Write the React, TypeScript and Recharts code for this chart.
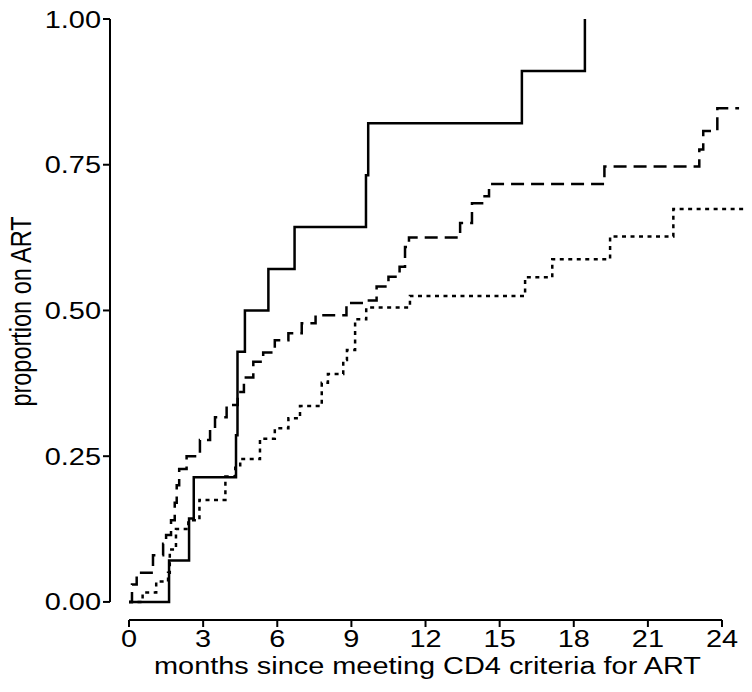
import { LineChart, Line, XAxis, YAxis, ReferenceLine, Label } from "recharts";

// months since meeting CD4 criteria, and cumulative proportion on ART after each step
const solidMonths = [0, 1.62, 2.43, 2.62, 4.33, 4.39, 4.69, 5.64, 6.7, 9.59, 9.68, 15.9, 18.45];
const solidProp = [0, 0.071, 0.143, 0.214, 0.286, 0.429, 0.5, 0.571, 0.643, 0.732, 0.821, 0.911, 1.0];

const dashedMonths = [
  0, 0.12, 0.31, 0.97, 1.38, 1.5, 1.7, 1.85, 1.93, 2.03, 2.33, 2.87, 3.28, 3.48, 3.95, 4.4, 4.65,
  5.03, 5.43, 5.9, 6.45, 6.99, 7.55, 8.8, 9.55, 10.02, 10.5, 10.95, 11.17, 11.33, 13.4, 13.88,
  14.29, 14.57, 19.24, 23.08, 23.24, 23.81, 24.69,
];
const dashedProp = [
  0, 0.03, 0.05, 0.08, 0.1, 0.115, 0.14, 0.17, 0.2, 0.228, 0.25, 0.278, 0.296, 0.317, 0.338, 0.36,
  0.385, 0.412, 0.428, 0.449, 0.461, 0.478, 0.492, 0.513, 0.517, 0.541, 0.558, 0.575, 0.609, 0.625,
  0.65, 0.684, 0.696, 0.717, 0.747, 0.776, 0.808, 0.847, 0.847,
];

const dottedMonths = [
  0, 0.55, 1.1, 1.58, 1.65, 1.9, 2.4, 2.85, 3.9, 4.3, 4.5, 5.3, 5.9, 6.45, 6.92, 7.8, 8.05, 8.67,
  8.82, 9.15, 9.6, 11.37, 16.03, 17.13, 19.47, 22.03, 24.93,
];
const dottedProp = [
  0, 0.016, 0.035, 0.05, 0.09, 0.125, 0.14, 0.175, 0.215, 0.23, 0.245, 0.28, 0.298, 0.315, 0.336,
  0.376, 0.391, 0.415, 0.432, 0.485, 0.505, 0.525, 0.557, 0.588, 0.627, 0.674, 0.674,
];

const xTicks = [0, 3, 6, 9, 12, 15, 18, 21, 24];
const yTicks = [0, 0.25, 0.5, 0.75, 1];

// axis extents (R-style axes sit a little outside the data)
const X_MIN = -0.77;
const X_MAX = 24.93;
const Y_MIN = -0.031;
const Y_MAX = 1;

const toRows = (t: number[], p: number[]) => t.map((m, i) => ({ m, p: p[i] }));
const solidRows = toRows(solidMonths, solidProp);
const dashedRows = toRows(dashedMonths, dashedProp);
const dottedRows = toRows(dottedMonths, dottedProp);

const FONT = "'Liberation Sans', Arial, Helvetica, sans-serif";
const FS = 23.5;
const STRETCH = 1.23;

const XTick = ({ x, y, payload }: any) => (
  <text
    transform={`translate(${x},${y + 18}) scale(${STRETCH},1)`}
    textAnchor="middle"
    fontSize={FS}
    fontFamily={FONT}
    fill="#000"
  >
    {payload.value}
  </text>
);

const YTick = ({ x, y, payload }: any) => (
  <text
    transform={`translate(${x},${y + 8.5}) scale(${STRETCH},1)`}
    textAnchor="end"
    fontSize={FS}
    fontFamily={FONT}
    fill="#000"
  >
    {Number(payload.value).toFixed(2)}
  </text>
);

const XTitle = ({ viewBox }: any) => (
  <text
    transform={`translate(${viewBox.x + viewBox.width / 2},${viewBox.y + 54}) scale(${STRETCH},1)`}
    textAnchor="middle"
    fontSize={FS}
    fontFamily={FONT}
    fill="#000"
  >
    months since meeting CD4 criteria for ART
  </text>
);

const YTitle = ({ viewBox }: any) => (
  <text
    transform={`translate(31,${viewBox.y + viewBox.height / 2 - 8}) rotate(-90) scale(1,${STRETCH})`}
    textAnchor="middle"
    fontSize={FS}
    fontFamily={FONT}
    fill="#000"
  >
    proportion on ART
  </text>
);

export default function App() {
  return (
    <div style={{ position: "absolute", left: 0, top: 0, background: "#fff" }}>
      <LineChart width={752} height={692} margin={{ top: 19, right: 7, bottom: 0, left: 0 }}>
        <XAxis
          dataKey="m"
          type="number"
          domain={[X_MIN, X_MAX]}
          ticks={xTicks}
          allowDataOverflow
          axisLine={false}
          tickLine={{ stroke: "#000", strokeWidth: 2 }}
          tickSize={7}
          height={72}
          tick={(p: any) => <XTick {...p} />}
        >
          <Label content={(p: any) => <XTitle {...p} />} />
        </XAxis>
        <YAxis
          type="number"
          domain={[Y_MIN, Y_MAX]}
          ticks={yTicks}
          allowDataOverflow
          axisLine={false}
          tickLine={{ stroke: "#000", strokeWidth: 2 }}
          tickSize={7}
          width={110}
          tick={(p: any) => <YTick {...p} />}
        >
          <Label content={(p: any) => <YTitle {...p} />} />
        </YAxis>
        <ReferenceLine
          segment={[{ x: 0, y: Y_MIN }, { x: 24, y: Y_MIN }]}
          ifOverflow="visible"
          stroke="#000"
          strokeWidth={2}
        />
        <ReferenceLine
          segment={[{ x: X_MIN, y: 0 }, { x: X_MIN, y: 1 }]}
          ifOverflow="visible"
          stroke="#000"
          strokeWidth={2}
        />
        <Line
          data={dottedRows}
          dataKey="p"
          type="stepAfter"
          stroke="#000"
          strokeWidth={2.5}
          strokeDasharray="4 4.5"
          dot={false}
          activeDot={false}
          isAnimationActive={false}
        />
        <Line
          data={dashedRows}
          dataKey="p"
          type="stepAfter"
          stroke="#000"
          strokeWidth={2.5}
          strokeDasharray="13 7"
          dot={false}
          activeDot={false}
          isAnimationActive={false}
        />
        <Line
          data={solidRows}
          dataKey="p"
          type="stepAfter"
          stroke="#000"
          strokeWidth={2.5}
          dot={false}
          activeDot={false}
          isAnimationActive={false}
        />
      </LineChart>
    </div>
  );
}
